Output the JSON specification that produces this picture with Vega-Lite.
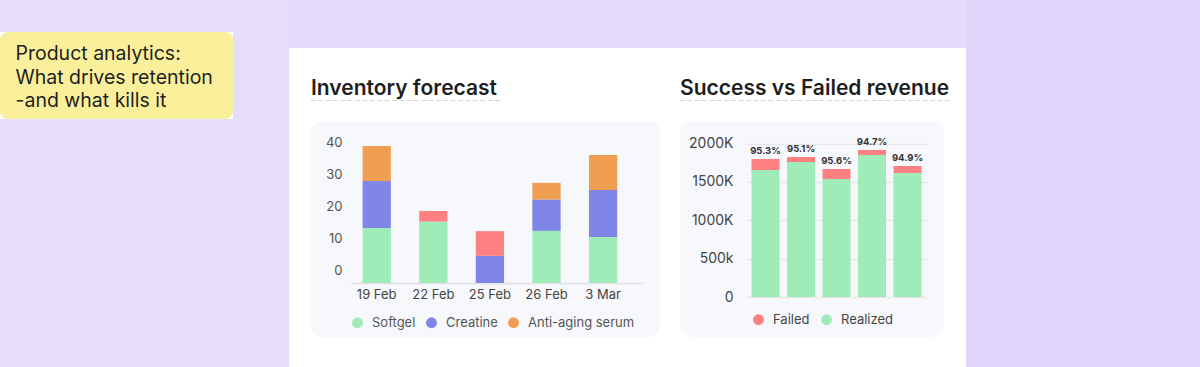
{
  "$schema": "https://vega.github.io/schema/vega-lite/v6.json",
  "background": "#ffffff",
  "padding": 0,
  "spacing": 0,
  "config": {"view": {"stroke": null}, "font": "Inter", "axis": {"labelFont": "Inter"}, "legend": {"labelFont": "Inter"}},
  "resolve": {"scale": {"color": "independent"}, "legend": {"color": "independent"}},
  "hconcat": [
    {
      "spacing": 0,
      "vconcat": [
        {"width": 289, "height": 32, "view": {"fill": "#e7defb", "stroke": null}, "data": {"values": [{}]}, "mark": {"type": "point", "opacity": 0, "size": 0}, "encoding": {}},
        {
          "spacing": 0,
          "hconcat": [
            {
              "width": 233, "height": 87,
              "view": {"fill": "#faf09b", "cornerRadius": 8, "stroke": null},
              "data": {"values": [
                {"line": 1, "text": "Product analytics:"},
                {"line": 2, "text": "What drives retention"},
                {"line": 3, "text": "-and what kills it"}
              ]},
              "mark": {"type": "point", "opacity": 0, "size": 0},
              "encoding": {
                "y": {"field": "text", "type": "nominal", "sort": {"field": "line", "op": "min"},
                  "scale": {"type": "point", "padding": 0.87},
                  "axis": {"title": null, "orient": "left", "offset": -15, "labelAlign": "left", "labelOffset": 1.5, "domain": false, "ticks": false, "tickSize": 0, "labelPadding": 0, "labelFontSize": 19.5, "labelColor": "#1f1f1f", "labelLimit": 0, "labelFont": "Inter"}}
              }
            },
            {"width": 56, "height": 87, "view": {"fill": "#e7defb", "stroke": null}, "data": {"values": [{}]}, "mark": {"type": "point", "opacity": 0, "size": 0}, "encoding": {}}
          ]
        },
        {"width": 289, "height": 248, "view": {"fill": "#e7defb", "stroke": null}, "data": {"values": [{}]}, "mark": {"type": "point", "opacity": 0, "size": 0}, "encoding": {}}
      ]
    },
    {
      "spacing": 30,
      "resolve": {"scale": {"color": "independent"}, "legend": {"color": "independent"}},
      "vconcat": [
        {"width": 677, "height": 48, "view": {"fill": "#e5dcfb", "stroke": null}, "data": {"values": [{}]}, "mark": {"type": "point", "opacity": 0, "size": 0}, "encoding": {}},
        {
          "spacing": 20,
          "resolve": {"scale": {"color": "independent"}, "legend": {"color": "independent"}},
          "hconcat": [
            {"width": 2, "height": 216, "data": {"values": [{}]}, "mark": {"type": "point", "opacity": 0, "size": 0}, "encoding": {}},
            {
              "width": 349, "height": 216,
              "view": {"fill": "#f7f8fc", "cornerRadius": 12, "stroke": null},
              "title": {"text": "Inventory forecast", "subtitle": "‾ ‾ ‾ ‾ ‾ ‾ ‾ ‾ ‾ ‾ ‾ ‾ ‾ ‾ ‾ ‾ ‾ ‾ ‾ ‾ ‾ ‾ ‾ ‾ ‾ ‾", "anchor": "start", "frame": "group", "fontSize": 21, "fontWeight": 600, "color": "#1e1e1e", "font": "Inter", "subtitleFont": "DejaVu Sans", "subtitleFontSize": 9, "subtitleColor": "#bdbdbd", "subtitlePadding": 1, "offset": 12},
              "data": {"values": [
                {"date": "19 Feb", "product": "Softgel", "value": 17.2},
                {"date": "19 Feb", "product": "Creatine", "value": 14.7},
                {"date": "19 Feb", "product": "Anti-aging serum", "value": 10.9},
                {"date": "22 Feb", "product": "Softgel", "value": 19.2},
                {"date": "22 Feb", "product": "Add-ons", "value": 3.3},
                {"date": "25 Feb", "product": "Creatine", "value": 8.5},
                {"date": "25 Feb", "product": "Add-ons", "value": 7.7},
                {"date": "26 Feb", "product": "Softgel", "value": 16.3},
                {"date": "26 Feb", "product": "Creatine", "value": 9.8},
                {"date": "26 Feb", "product": "Anti-aging serum", "value": 5.2},
                {"date": "3 Mar", "product": "Softgel", "value": 14.4},
                {"date": "3 Mar", "product": "Creatine", "value": 14.7},
                {"date": "3 Mar", "product": "Anti-aging serum", "value": 10.9}
              ]},
              "mark": {"type": "bar"},
              "encoding": {
                "x": {"field": "date", "type": "nominal", "sort": ["19 Feb", "22 Feb", "25 Feb", "26 Feb", "3 Mar"],
                  "scale": {"range": [40, 332], "paddingInner": 0.5, "paddingOuter": 0.33, "align": 0.31},
                  "axis": {"title": null, "orient": "bottom", "offset": -54, "labelAngle": 0, "domainColor": "#e3e3e8", "domainWidth": 2, "ticks": false, "tickSize": 0, "labelPadding": 5, "labelFontSize": 13, "labelColor": "#444444"}},
                "y": {"field": "value", "type": "quantitative", "stack": "zero",
                  "scale": {"domain": [-16.875, 50.625], "nice": false, "zero": false},
                  "axis": {"title": null, "values": [0, 10, 20, 30, 40], "offset": -31, "labelOffset": -13, "domain": false, "ticks": false, "tickSize": 0, "grid": false, "labelPadding": 0, "labelFontSize": 13, "labelColor": "#555555"}},
                "color": {"field": "product", "type": "nominal",
                  "scale": {"domain": ["Softgel", "Creatine", "Anti-aging serum", "Add-ons"], "range": ["#a0ecb9", "#8086e8", "#f09e52", "#ff8080"]},
                  "legend": {"title": null, "orient": "none", "legendX": 40, "legendY": 195, "direction": "horizontal", "values": ["Softgel", "Creatine", "Anti-aging serum"], "symbolType": "circle", "symbolSize": 120, "symbolStrokeWidth": 0, "symbolOpacity": 1, "labelFontSize": 13, "labelColor": "#555555", "columnPadding": 9, "labelOffset": 8}},
                "order": {"field": "product", "sort": "descending"}
              }
            },
            {
              "width": 264, "height": 216,
              "view": {"fill": "#f7f8fc", "cornerRadius": 12, "stroke": null},
              "title": {"text": "Success vs Failed revenue", "subtitle": "‾ ‾ ‾ ‾ ‾ ‾ ‾ ‾ ‾ ‾ ‾ ‾ ‾ ‾ ‾ ‾ ‾ ‾ ‾ ‾ ‾ ‾ ‾ ‾ ‾ ‾ ‾ ‾ ‾ ‾ ‾ ‾ ‾ ‾ ‾ ‾ ‾", "anchor": "start", "frame": "group", "fontSize": 21, "fontWeight": 600, "color": "#1e1e1e", "font": "Inter", "subtitleFont": "DejaVu Sans", "subtitleFontSize": 9, "subtitleColor": "#bdbdbd", "subtitlePadding": 1, "offset": 12},
              "data": {"values": [
                {"period": "1", "Realized": 1656, "Failed": 144, "label": "95.3%"},
                {"period": "2", "Realized": 1761, "Failed": 65, "label": "95.1%"},
                {"period": "3", "Realized": 1539, "Failed": 131, "label": "95.6%"},
                {"period": "4", "Realized": 1852, "Failed": 65, "label": "94.7%"},
                {"period": "5", "Realized": 1617, "Failed": 92, "label": "94.9%"}
              ]},
              "transform": [{"fold": ["Realized", "Failed"], "as": ["status", "value"]}],
              "encoding": {
                "x": {"field": "period", "type": "nominal", "scale": {"range": [66, 247], "paddingInner": 0.21, "paddingOuter": 0.155}, "axis": null}
              },
              "layer": [
                {
                  "mark": {"type": "bar"},
                  "encoding": {
                    "y": {"field": "value", "type": "quantitative", "stack": "zero",
                      "scale": {"domain": [-521.7, 2295.6], "nice": false, "zero": false},
                      "axis": {"title": null, "values": [0, 500, 1000, 1500, 2000], "labelExpr": "datum.value == 0 ? '0' : datum.value == 500 ? '500k' : datum.value + 'K'", "offset": -53, "domain": false, "ticks": false, "tickSize": 0, "grid": true, "gridColor": "#e6e6ec", "gridWidth": 1.5, "labelPadding": 0, "labelFontSize": 14, "labelColor": "#444444"}},
                    "color": {"field": "status", "type": "nominal",
                      "scale": {"domain": ["Failed", "Realized"], "range": ["#ff8080", "#a0ecb9"]},
                      "legend": {"title": null, "orient": "none", "legendX": 72, "legendY": 192, "direction": "horizontal", "symbolType": "circle", "symbolSize": 120, "symbolStrokeWidth": 0, "symbolOpacity": 1, "labelFontSize": 13, "labelColor": "#444444", "columnPadding": 10, "labelOffset": 8}},
                    "order": {"field": "status", "sort": "descending"}
                  }
                },
                {
                  "mark": {"type": "text", "baseline": "bottom", "dy": -3, "fontSize": 9.5, "fontWeight": "bold", "color": "#333333"},
                  "encoding": {
                    "y": {"aggregate": "sum", "field": "value", "type": "quantitative",
                      "axis": {"title": null, "values": [0, 500, 1000, 1500, 2000], "labelExpr": "datum.value == 0 ? '0' : datum.value == 500 ? '500k' : datum.value + 'K'", "offset": -53, "domain": false, "ticks": false, "tickSize": 0, "grid": true, "gridColor": "#e6e6ec", "gridWidth": 1.5, "labelPadding": 0, "labelFontSize": 14, "labelColor": "#444444"}},
                    "text": {"field": "label"}
                  }
                }
              ]
            }
          ]
        }
      ]
    },
    {"width": 234, "height": 367, "view": {"fill": "#e0d5fb", "stroke": null}, "data": {"values": [{}]}, "mark": {"type": "point", "opacity": 0, "size": 0}, "encoding": {}}
  ]
}
